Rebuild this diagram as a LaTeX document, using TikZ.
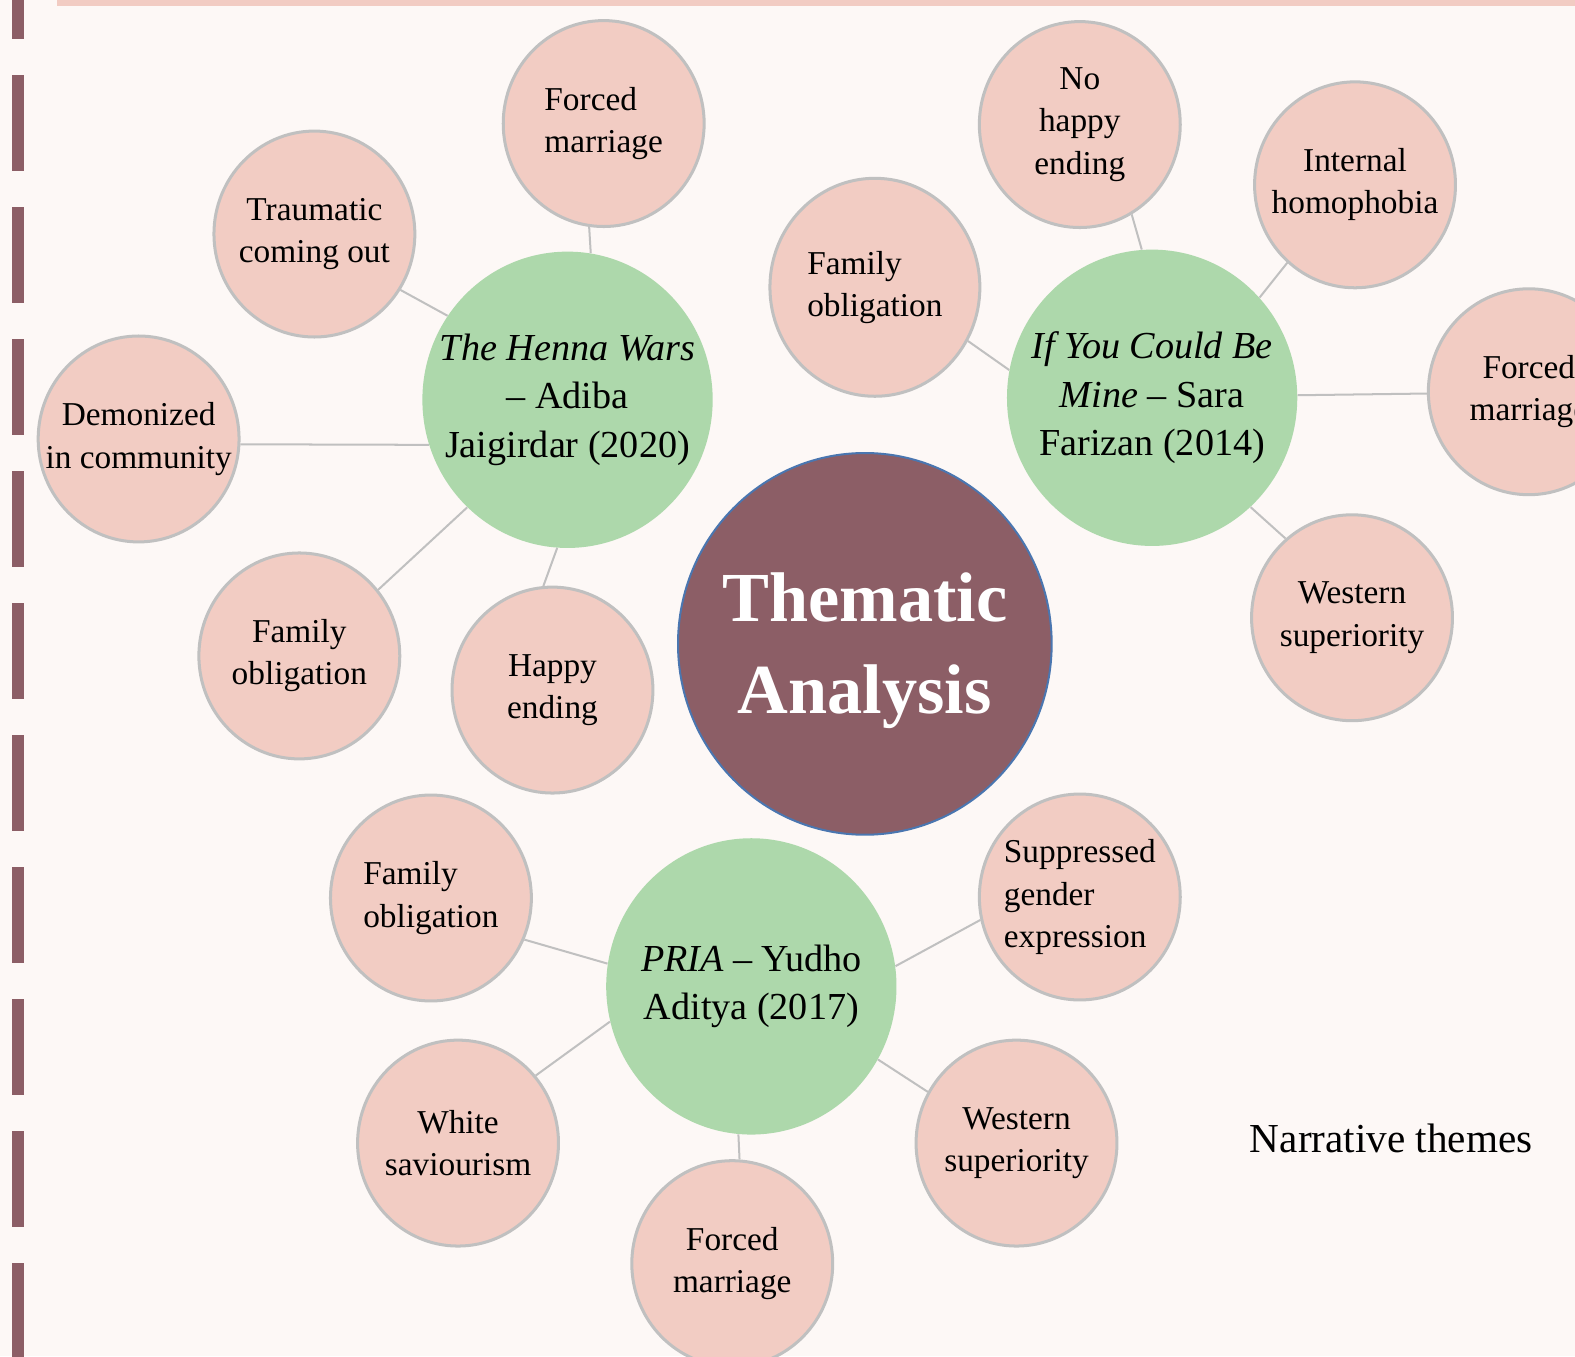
\documentclass[tikz,border=0pt]{standalone}
\usepackage{fontspec}
\setmainfont{Liberation Serif}
\usetikzlibrary{shapes.geometric}
\definecolor{bgc}{HTML}{FDF8F6}
\definecolor{pinkc}{HTML}{F2CCC3}
\definecolor{grayc}{HTML}{C0C0C0}
\definecolor{greenc}{HTML}{ADD8AB}
\definecolor{maroonc}{HTML}{8C5E66}
\definecolor{bluec}{HTML}{4A76B0}
\begin{document}
\begin{tikzpicture}[x=0.5pt,y=-0.5pt,
  theme/.style={ellipse, fill=pinkc, draw=grayc, line width=1.5pt,
    minimum width=100pt, minimum height=102.5pt, inner sep=-16pt,
    font=\fontsize{16.6}{21}\selectfont, align=center},
  bigtheme/.style={theme, minimum width=104.5pt, minimum height=108.5pt},
  book/.style={ellipse, fill=greenc, minimum width=144.5pt, minimum height=147.5pt,
    inner sep=-14pt, font=\fontsize{19}{24}\selectfont, align=center},
  hub/.style={ellipse, fill=maroonc, draw=bluec, line width=1pt,
    minimum width=186pt, minimum height=190pt, inner sep=-12pt, text=white,
    font=\fontsize{35}{46}\selectfont\bfseries, align=center},
  link/.style={draw=grayc, line width=1pt}]
\useasboundingbox (0,0) rectangle (1568,1350);
\begin{scope}
\clip (0,0) rectangle (1568,1350);
\fill[bgc] (0,0) rectangle (1568,1350);
\fill[pinkc] (57,0) rectangle (1568,6);
\foreach \i in {0,...,10}
  \fill[maroonc] (12,{-57+131.4*\i}) rectangle (24,{-57+131.4*\i+95.6});

% hub
\node[hub] (ta) at (861,641) {\rule{0pt}{31pt}Thematic\\Analysis};

% books
\node[book] (hw) at (565,398) {\textit{The Henna Wars}\\– Adiba\\Jaigirdar (2020)};
\node[book] (iy) at (1147,396) {\textit{If You Could Be}\\\textit{Mine} – Sara\\Farizan (2014)};
\node[book] (pr) at (748,982) {\textit{PRIA} – Yudho\\Aditya (2017)};

% themes: Henna Wars
\node[theme, align=left] (fm1) at (601,123) {Forced\\marriage};
\node[theme] (tco) at (313,233) {Traumatic\\coming out};
\node[theme] (dem) at (138,437) {Demonized\\in community};
\node[theme] (fol) at (298,653) {Family\\obligation};
\node[theme] (hap) at (550,687) {Happy\\ending};

% themes: If You Could Be Mine
\node[bigtheme, align=left] (fot) at (871,286) {Family\\obligation};
\node[theme] (nhe) at (1075,124) {No\\happy\\ending};
\node[theme] (ihp) at (1349,184) {Internal\\homophobia};
\node[theme] (fmr) at (1522,390) {Forced\\marriage};
\node[theme] (wsr) at (1346,615) {Western\\superiority};

% themes: PRIA
\node[theme, align=left] (fob) at (429,894) {Family\\obligation};
\node[theme, align=left] (sge) at (1075,893) {Suppressed\\gender\\expression};
\node[theme] (wsv) at (456,1138) {White\\saviourism};
\node[theme] (fmb) at (729,1258) {Forced\\marriage};
\node[theme] (wsb) at (1012,1138) {Western\\superiority};

% connectors
\draw[link] (hw.81.8) -- (fm1.262.3);
\draw[link] (hw.145.7) -- (tco.-33.2);
\draw[link] (hw.198.2) -- (dem.-3.4);
\draw[link] (hw.227.2) -- (fol.40.4);
\draw[link] (hw.266.3) -- (hap.95.4);

\draw[link] (iy.169.8) -- (fot.-30.7);
\draw[link] (iy.94.2) -- (nhe.-60);
\draw[link] (iy.43.6) -- (ihp.229.7);
\draw[link] (iy.1.2) -- (fmr.181.7);
\draw[link] (iy.-48.3) -- (wsr.130.2);

\draw[link] (pr.171.4) -- (fob.-24.8);
\draw[link] (pr.194.3) -- (wsv.41.9);
\draw[link] (pr.265) -- (fmb.86.7);
\draw[link] (pr.8.7) -- (sge.193.2);
\draw[link] (pr.-30.6) -- (wsb.150.6);

\node[font=\fontsize{20.5}{24}\selectfont, inner sep=0pt] (nt) at (1385,1133) {Narrative themes};
\end{scope}
\end{tikzpicture}
\end{document}
